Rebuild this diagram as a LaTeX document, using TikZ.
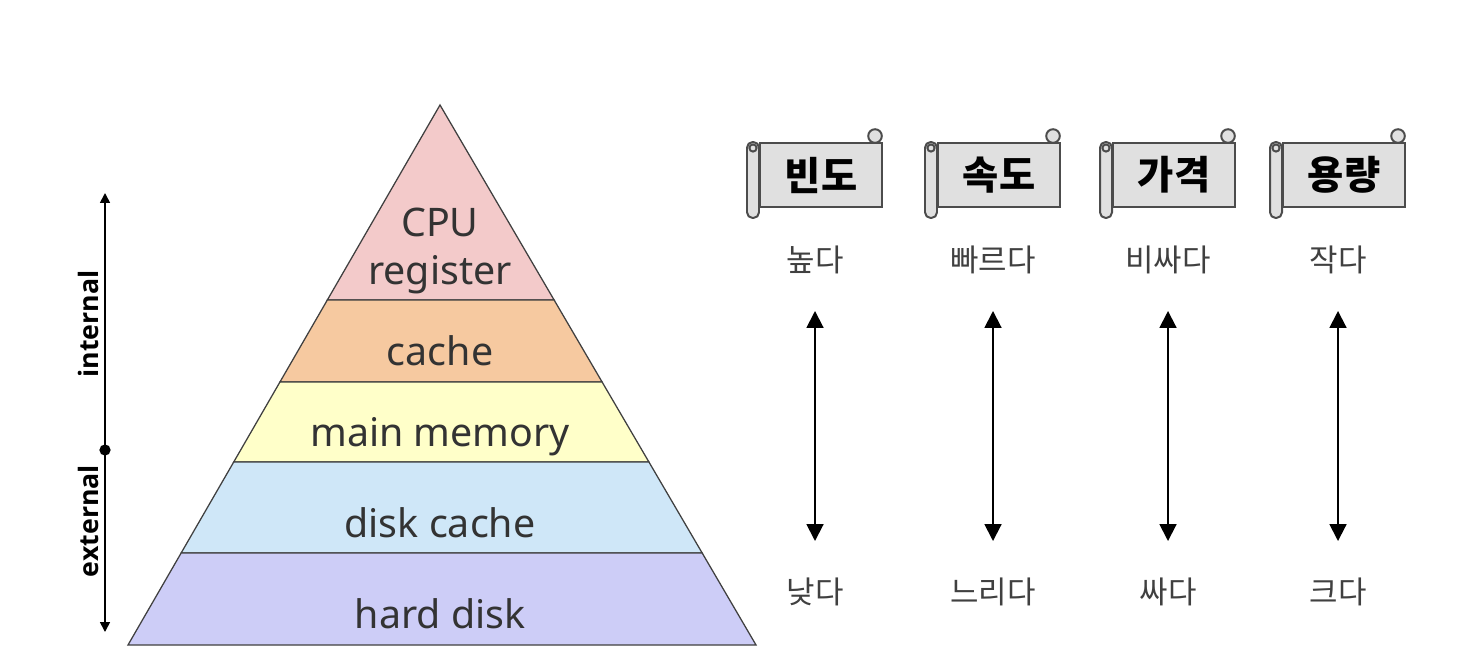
\documentclass[tikz,border=0pt]{standalone}
\usepackage{fontspec}
\setmainfont{Noto Sans}
\newfontfamily\axfont{Open Sans}
\newfontfamily\kr{Noto Sans CJK KR}
\usetikzlibrary{arrows.meta,calc}

\definecolor{regpink}{HTML}{F3CACA}
\definecolor{cachepeach}{HTML}{F6C9A0}
\definecolor{memyellow}{HTML}{FFFFC9}
\definecolor{dcblue}{HTML}{CFE7F8}
\definecolor{hdlilac}{HTML}{CDCDF7}

\tikzset{
  layer/.style={draw=black!75, line width=0.9pt},
  lyrtext/.style={text=black!80, font=\fontsize{28}{34}\selectfont, align=center},
  axislbl/.style={rotate=90, font=\axfont\bfseries\fontsize{19}{20}\selectfont},
  axisline/.style={{Triangle[width=7pt,length=7pt]}-{Triangle[width=7pt,length=7pt]}, line width=1.2pt},
  scrollbox/.style={draw=black!70, fill=black!12, line width=1.4pt, minimum width=3.05cm,
    minimum height=1.6cm, inner sep=0pt, font=\kr\bfseries\fontsize{28}{30}\selectfont},
  scrollroll/.style={draw=black!70, fill=black!12, line width=1.4pt},
  kortext/.style={text=black!75, font=\kr\fontsize{22}{24}\selectfont},
  updown/.style={{Triangle[width=12pt,length=12pt]}-{Triangle[width=12pt,length=12pt]}, line width=1.4pt},
}

\begin{document}
\begin{tikzpicture}[x=0.025cm,y=-0.025cm]
\useasboundingbox (0,0) rectangle (1464,670);

% pyramid layers
\foreach \ya/\yb/\col in {105/300/regpink, 300/382/cachepeach, 382/462/memyellow, 462/553/dcblue, 553/645/hdlilac}
  \filldraw[layer, fill=\col] ({440-0.5778*(\ya-105)},\ya) -- ({440+0.5852*(\ya-105)},\ya)
    -- ({440+0.5852*(\yb-105)},\yb) -- ({440-0.5778*(\yb-105)},\yb) -- cycle;

\node[lyrtext] (reg) at (440,251) {CPU\\register};
\node[lyrtext] (cache) at (440,351) {cache};
\node[lyrtext] (mem) at (440,437) {main memory};
\node[lyrtext] (dcache) at (440,523) {disk cache};
\node[lyrtext] (hdisk) at (440,614) {hard disk};

% internal / external axis
\coordinate (axtop) at (105,193);
\coordinate (axbot) at (105,632);
\draw[axisline] (axtop) -- (axbot);
\node[circle, fill=black, inner sep=0pt, minimum size=8pt] (split) at (105,450) {};
\node[axislbl] (int) at (88,324) {internal};
\node[axislbl] (ext) at (88,521) {external};

% scrolls and ranges
\foreach \cx/\ttl/\hi/\lo [count=\i] in {815/빈도/높다/낮다, 993/속도/빠르다/느리다, 1168/가격/비싸다/싸다, 1338/용량/작다/크다} {
  \node[scrollbox] (s\i) at ({\cx+6},175) {\ttl};
  \draw[scrollroll, rounded corners=4pt] ($(s\i.north west)+(-12,0)$) rectangle ($(s\i.south west)+(0,10)$);
  \draw[scrollroll] ($(s\i.north west)+(-6,6)$) circle[radius=0.9mm];
  \draw[scrollroll] ($(s\i.north east)+(-8,-6)$) circle[radius=1.7mm];
  \node[kortext] (h\i) at (\cx,260) {\hi};
  \node[kortext] (l\i) at (\cx,592) {\lo};
  \draw[updown, shorten <=8mm, shorten >=8mm] (h\i) -- (l\i);
}
\end{tikzpicture}
\end{document}
